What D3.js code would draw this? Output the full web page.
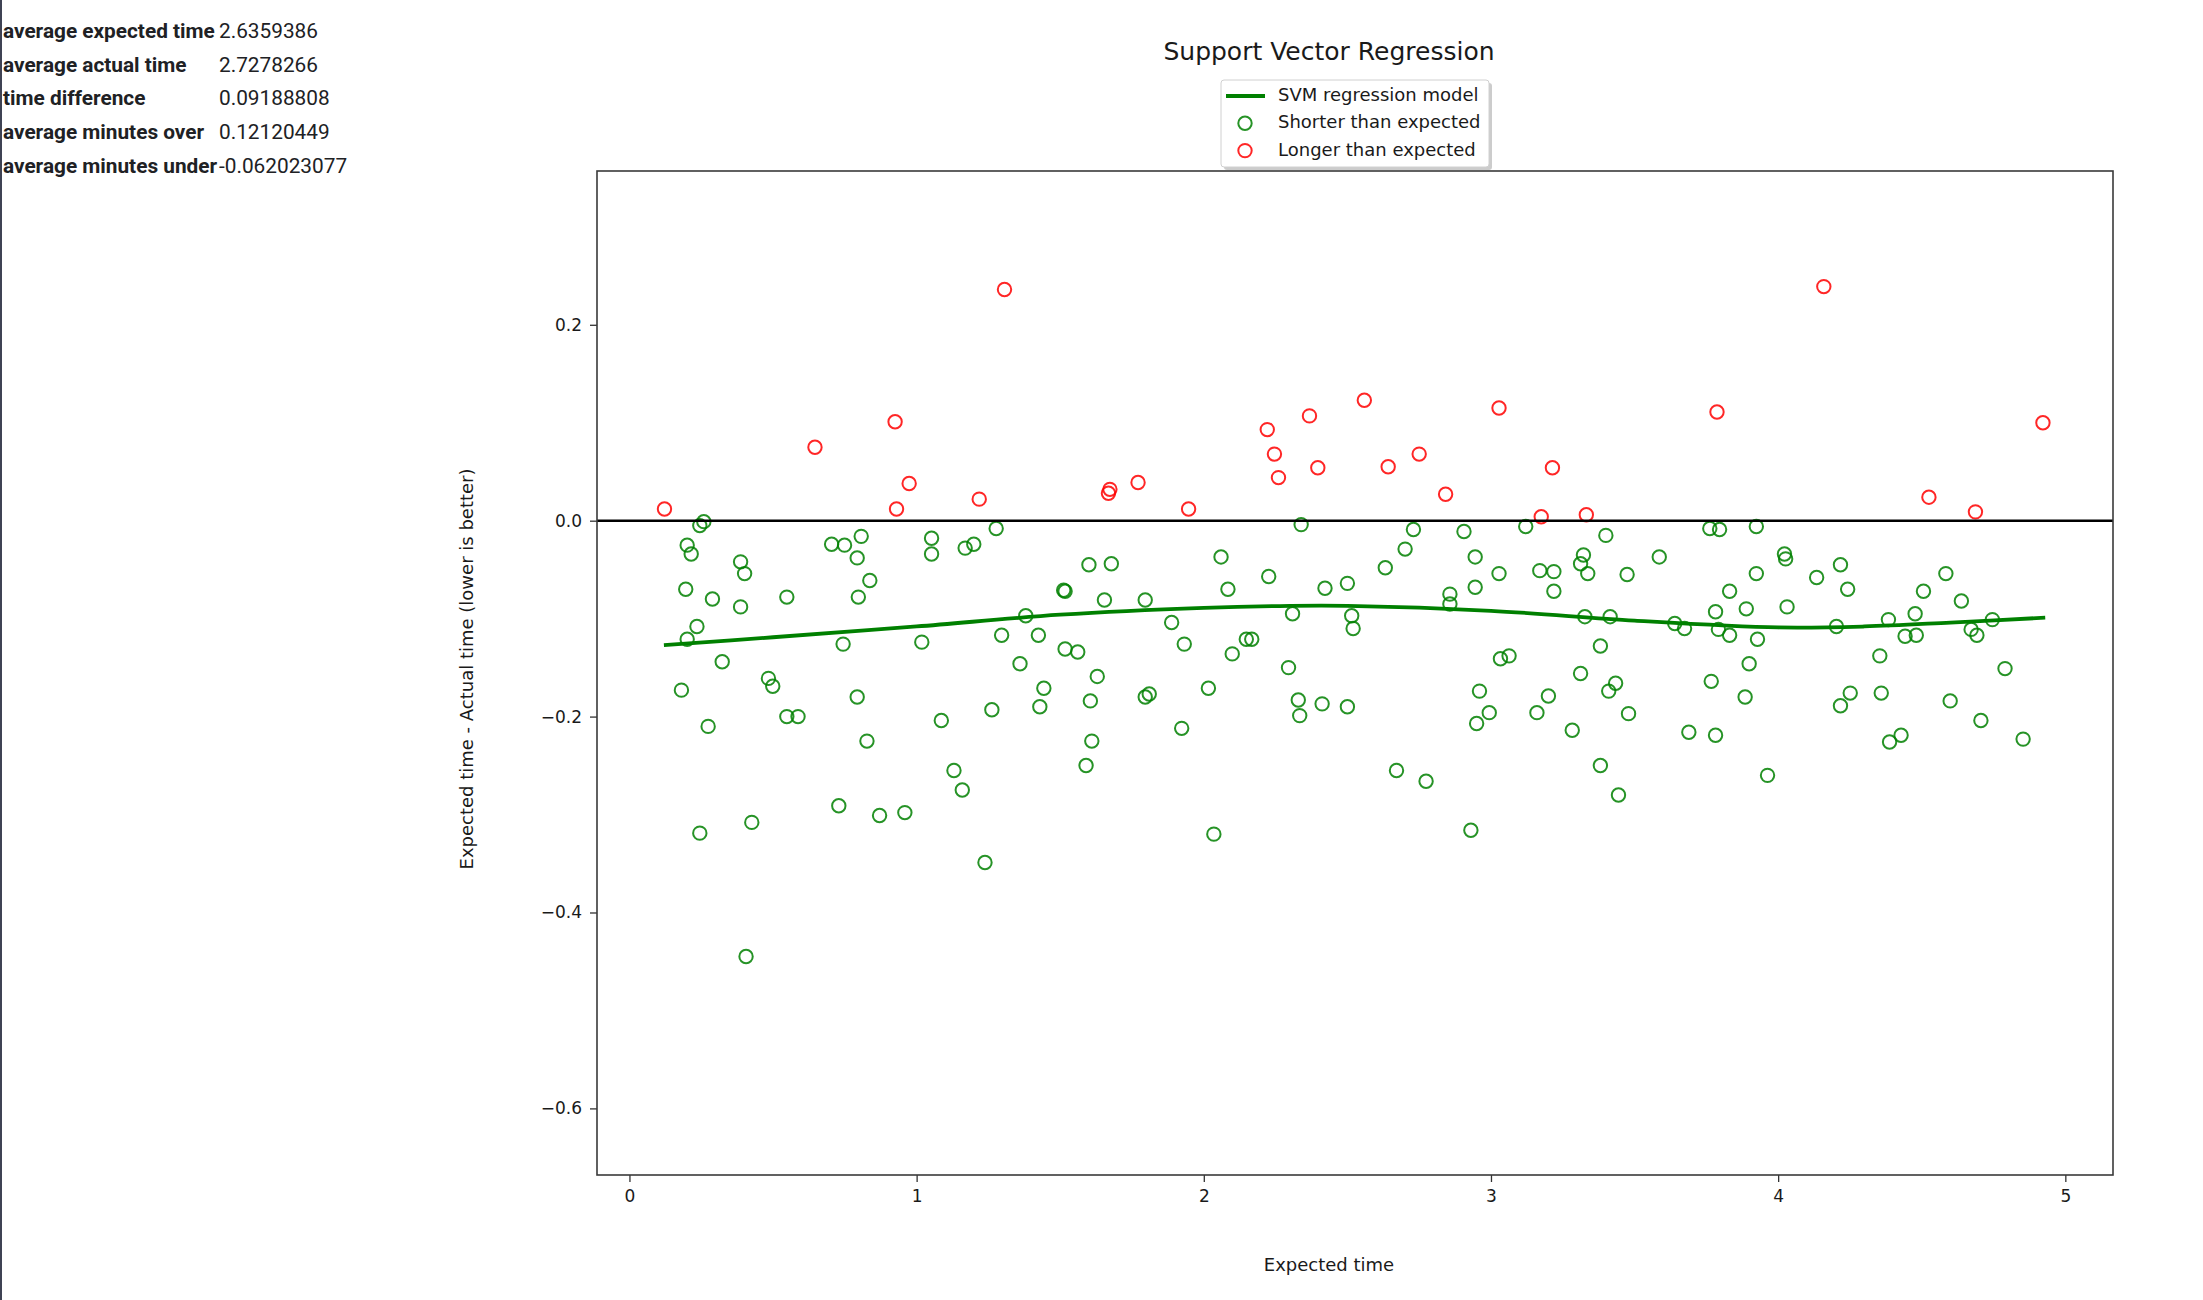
<!DOCTYPE html>
<html lang="en">

<head>
  <meta charset="UTF-8">
  <script src="https://d3js.org/d3.v7.min.js"></script>
  <style>
    html,
    body {
      padding: 0px;
      margin: 0px;
      background-color: white;
    }

    svg {
      display: block;
    }

    .stats text {
      font-family: Roboto, sans-serif;
      font-size: 20.8px;
      fill: #202124;
    }

    .stats .stat-label {
      font-weight: bold;
    }

    .chart text {
      font-family: "DejaVu Sans", sans-serif;
      fill: #1a1a1a;
    }

    .axis .tick line {
      stroke: #333;
      stroke-width: 1.3;
    }

    .axis .tick text {
      font-size: 17px;
    }
  </style>
</head>

<body>
  <svg id="plot-svg" width="2203" height="1300"></svg>

  <script>
    // summary table on the left
    const statLabels = ["average expected time", "average actual time", "time difference",
      "average minutes over", "average minutes under"];
    const statValues = ["2.6359386", "2.7278266", "0.09188808", "0.12120449", "-0.062023077"];

    // ticks
    const xTicks = [0, 1, 2, 3, 4, 5];
    const yTicks = [-0.6, -0.4, -0.2, 0.0, 0.2];
    const yTickLabels = ["\u22120.6", "\u22120.4", "\u22120.2", "0.0", "0.2"];

    // shorter than expected (green)
    const greenX = [0.181, 0.201, 0.215, 0.196, 0.201, 0.235, 0.245, 0.259, 0.245, 0.274,
      0.289, 0.323, 0.387, 0.387, 0.401, 0.426, 0.406, 0.484, 0.499, 0.548,
      0.548, 0.587, 0.704, 0.749, 0.744, 0.729, 0.793, 0.807, 0.793, 0.797,
      0.837, 0.827, 0.871, 0.959, 1.018, 1.052, 1.052, 1.086, 1.130, 1.159,
      1.169, 1.199, 1.238, 1.262, 1.277, 1.296, 1.360, 1.380, 1.424, 1.429,
      1.443, 1.512, 1.517, 1.517, 1.561, 1.590, 1.600, 1.605, 1.610, 1.629,
      1.654, 1.678, 1.796, 1.796, 1.810, 1.888, 1.923, 1.932, 2.016, 2.035,
      2.060, 2.084, 2.099, 2.148, 2.167, 2.226, 2.295, 2.309, 2.329, 2.339,
      2.334, 2.412, 2.422, 2.500, 2.500, 2.515, 2.520, 2.632, 2.671, 2.701,
      2.730, 2.774, 2.857, 2.857, 2.906, 2.930, 2.945, 2.945, 2.960, 2.950,
      2.994, 3.028, 3.033, 3.063, 3.121, 3.160, 3.170, 3.200, 3.219, 3.219,
      3.283, 3.312, 3.312, 3.322, 3.327, 3.337, 3.381, 3.381, 3.400, 3.410,
      3.415, 3.434, 3.444, 3.474, 3.479, 3.586, 3.640, 3.674, 3.689, 3.762,
      3.767, 3.796, 3.782, 3.782, 3.792, 3.831, 3.831, 3.889, 3.885, 3.899,
      3.924, 3.924, 3.928, 3.963, 4.022, 4.026, 4.031, 4.134, 4.203, 4.217,
      4.217, 4.242, 4.251, 4.354, 4.359, 4.384, 4.388, 4.428, 4.442, 4.477,
      4.481, 4.506, 4.584, 4.599, 4.638, 4.672, 4.692, 4.706, 4.746, 4.790,
      4.853];
    const greenY = [-0.173, -0.025, -0.034, -0.070, -0.121, -0.108, -0.005, -0.001, -0.319, -0.210,
    -0.080, -0.144, -0.042, -0.088, -0.054, -0.308, -0.445, -0.161, -0.169, -0.078,
    -0.200, -0.200, -0.024, -0.025, -0.126, -0.291, -0.038, -0.016, -0.180, -0.078,
    -0.061, -0.225, -0.301, -0.298, -0.124, -0.018, -0.034, -0.204, -0.255, -0.275,
    -0.028, -0.024, -0.349, -0.193, -0.008, -0.117, -0.146, -0.097, -0.117, -0.190,
    -0.171, -0.071, -0.072, -0.131, -0.134, -0.250, -0.045, -0.184, -0.225, -0.159,
    -0.081, -0.044, -0.081, -0.180, -0.177, -0.104, -0.212, -0.126, -0.171, -0.320,
    -0.037, -0.070, -0.136, -0.121, -0.121, -0.057, -0.150, -0.095, -0.183, -0.004,
    -0.199, -0.187, -0.069, -0.064, -0.190, -0.097, -0.110, -0.048, -0.255, -0.029,
    -0.009, -0.266, -0.075, -0.085, -0.011, -0.316, -0.037, -0.068, -0.174, -0.207,
    -0.196, -0.054, -0.141, -0.138, -0.006, -0.196, -0.051, -0.179, -0.052, -0.072,
    -0.214, -0.156, -0.044, -0.035, -0.098, -0.054, -0.128, -0.250, -0.015, -0.174,
    -0.098, -0.166, -0.280, -0.055, -0.197, -0.037, -0.105, -0.110, -0.216, -0.008,
    -0.164, -0.009, -0.093, -0.219, -0.111, -0.117, -0.072, -0.090, -0.180, -0.146,
    -0.006, -0.054, -0.121, -0.260, -0.034, -0.039, -0.088, -0.058, -0.108, -0.189,
    -0.045, -0.070, -0.176, -0.138, -0.176, -0.101, -0.226, -0.219, -0.118, -0.095,
    -0.117, -0.072, -0.054, -0.184, -0.082, -0.111, -0.117, -0.204, -0.101, -0.151,
    -0.223];

    // longer than expected (red)
    const redX = [0.122, 0.646, 0.925, 0.930, 0.974, 1.218, 1.306, 1.668, 1.673, 1.771,
      1.947, 2.221, 2.246, 2.260, 2.368, 2.397, 2.559, 2.642, 2.750, 2.842,
      3.028, 3.175, 3.214, 3.332, 3.787, 4.159, 4.525, 4.687, 4.922];
    const redY = [0.012, 0.075, 0.101, 0.012, 0.038, 0.022, 0.236, 0.028, 0.032, 0.039,
      0.012, 0.093, 0.068, 0.044, 0.107, 0.054, 0.123, 0.055, 0.068, 0.027,
      0.115, 0.004, 0.054, 0.006, 0.111, 0.239, 0.024, 0.009, 0.100];

    // svr model curve
    const svrX = [0.12, 0.5, 1.0, 1.5, 2.0, 2.3, 2.5, 3.0, 3.5, 4.0, 4.3, 4.6, 4.93];
    const svrY = [-0.127, -0.119, -0.108, -0.096, -0.089, -0.087, -0.087, -0.092, -0.102, -0.109, -0.108, -0.104, -0.099];

    const svg = d3.select("#plot-svg");
    const plot = { left: 597, right: 2113, top: 171, bottom: 1175 };

    // left page border
    svg.append("rect").attr("x", 0).attr("y", 0).attr("width", 2).attr("height", 1300).attr("fill", "#3f4354");

    // stats table
    const stats = svg.append("g").attr("class", "stats");
    stats.selectAll("text.stat-label").data(statLabels)
      .join("text")
      .attr("class", "stat-label")
      .attr("x", 3)
      .attr("y", (d, i) => 38 + i * 33.7)
      .text(d => d);
    stats.selectAll("text.stat-value").data(statValues)
      .join("text")
      .attr("class", "stat-value")
      .attr("x", 219)
      .attr("y", (d, i) => 38 + i * 33.7)
      .text(d => d);

    const chart = svg.append("g").attr("class", "chart");

    const xScale = d3.scaleLinear().domain([-0.113, 5.166]).range([plot.left, plot.right]);
    const yScale = d3.scaleLinear().domain([-0.668, 0.357]).range([plot.bottom, plot.top]);

    // axes
    const bottomAxis = d3.axisBottom(xScale).tickValues(xTicks).tickFormat(d3.format("d"))
      .tickSize(7).tickSizeOuter(0).tickPadding(8);
    chart.append("g").attr("class", "axis").attr("transform", `translate(0, ${plot.bottom})`).call(bottomAxis)
      .call(g => g.select(".domain").remove());

    const leftAxis = d3.axisLeft(yScale).tickValues(yTicks).tickFormat((d, i) => yTickLabels[i])
      .tickSize(7).tickSizeOuter(0).tickPadding(8);
    chart.append("g").attr("class", "axis").attr("transform", `translate(${plot.left}, 0)`).call(leftAxis)
      .call(g => g.select(".domain").remove());

    chart.selectAll(".axis text").attr("fill", "#1a1a1a").style("font-family", "'DejaVu Sans', sans-serif");

    // scatter points
    const greenPts = greenX.map((x, i) => ({ x: x, y: greenY[i] }));
    const redPts = redX.map((x, i) => ({ x: x, y: redY[i] }));

    chart.selectAll(".green-dot").data(greenPts)
      .join("circle")
      .attr("class", "green-dot")
      .attr("cx", d => xScale(d.x))
      .attr("cy", d => yScale(d.y))
      .attr("r", 6.7)
      .attr("fill", "none")
      .attr("stroke", "#008000")
      .attr("stroke-opacity", 0.85)
      .attr("stroke-width", 2);

    chart.selectAll(".red-dot").data(redPts)
      .join("circle")
      .attr("class", "red-dot")
      .attr("cx", d => xScale(d.x))
      .attr("cy", d => yScale(d.y))
      .attr("r", 6.7)
      .attr("fill", "none")
      .attr("stroke", "#ff0000")
      .attr("stroke-opacity", 0.85)
      .attr("stroke-width", 2);

    // zero line
    chart.append("line")
      .attr("x1", plot.left).attr("x2", plot.right)
      .attr("y1", yScale(0)).attr("y2", yScale(0))
      .attr("stroke", "black").attr("stroke-width", 2.6);

    // svr model
    const svrLine = d3.line().x(d => xScale(d[0])).y(d => yScale(d[1])).curve(d3.curveCatmullRom);
    chart.append("path")
      .datum(svrX.map((x, i) => [x, svrY[i]]))
      .attr("d", svrLine)
      .attr("fill", "none")
      .attr("stroke", "#008000")
      .attr("stroke-width", 3.8);

    // frame
    chart.append("rect")
      .attr("x", plot.left).attr("y", plot.top)
      .attr("width", plot.right - plot.left).attr("height", plot.bottom - plot.top)
      .attr("fill", "none").attr("stroke", "#3a3a3a").attr("stroke-width", 1.6);

    // title and labels
    chart.append("text")
      .attr("x", 1329).attr("y", 60)
      .attr("text-anchor", "middle")
      .style("font-size", "25px")
      .text("Support Vector Regression");

    chart.append("text")
      .attr("x", 1329).attr("y", 1271)
      .attr("text-anchor", "middle")
      .style("font-size", "18px")
      .text("Expected time");

    chart.append("text")
      .attr("transform", "translate(473, 669) rotate(-90)")
      .attr("text-anchor", "middle")
      .style("font-size", "18px")
      .text("Expected time - Actual time (lower is better)");

    // legend
    const legend = chart.append("g").attr("transform", "translate(1221, 80)");
    legend.append("rect").attr("x", 3).attr("y", 3).attr("width", 268).attr("height", 87)
      .attr("rx", 3).attr("fill", "#999").attr("opacity", 0.5);
    legend.append("rect").attr("width", 268).attr("height", 87)
      .attr("rx", 3).attr("fill", "white").attr("stroke", "#d0d0d0").attr("stroke-width", 1);

    const legendItems = ["SVM regression model", "Shorter than expected", "Longer than expected"];
    const legendColors = ["#008000", "#008000", "#ff0000"];
    legend.append("line").attr("x1", 5).attr("x2", 44).attr("y1", 16).attr("y2", 16)
      .attr("stroke", legendColors[0]).attr("stroke-width", 3.8);
    legend.selectAll("circle.legend-dot").data([1, 2])
      .join("circle")
      .attr("class", "legend-dot")
      .attr("cx", 24)
      .attr("cy", d => 16 + d * 27.3)
      .attr("r", 6.7)
      .attr("fill", "none")
      .attr("stroke", d => legendColors[d])
      .attr("stroke-opacity", 0.85)
      .attr("stroke-width", 2);
    legend.selectAll("text").data(legendItems)
      .join("text")
      .attr("x", 57)
      .attr("y", (d, i) => 21 + i * 27.4)
      .style("font-size", "18px")
      .text(d => d);
  </script>
</body>

</html>
